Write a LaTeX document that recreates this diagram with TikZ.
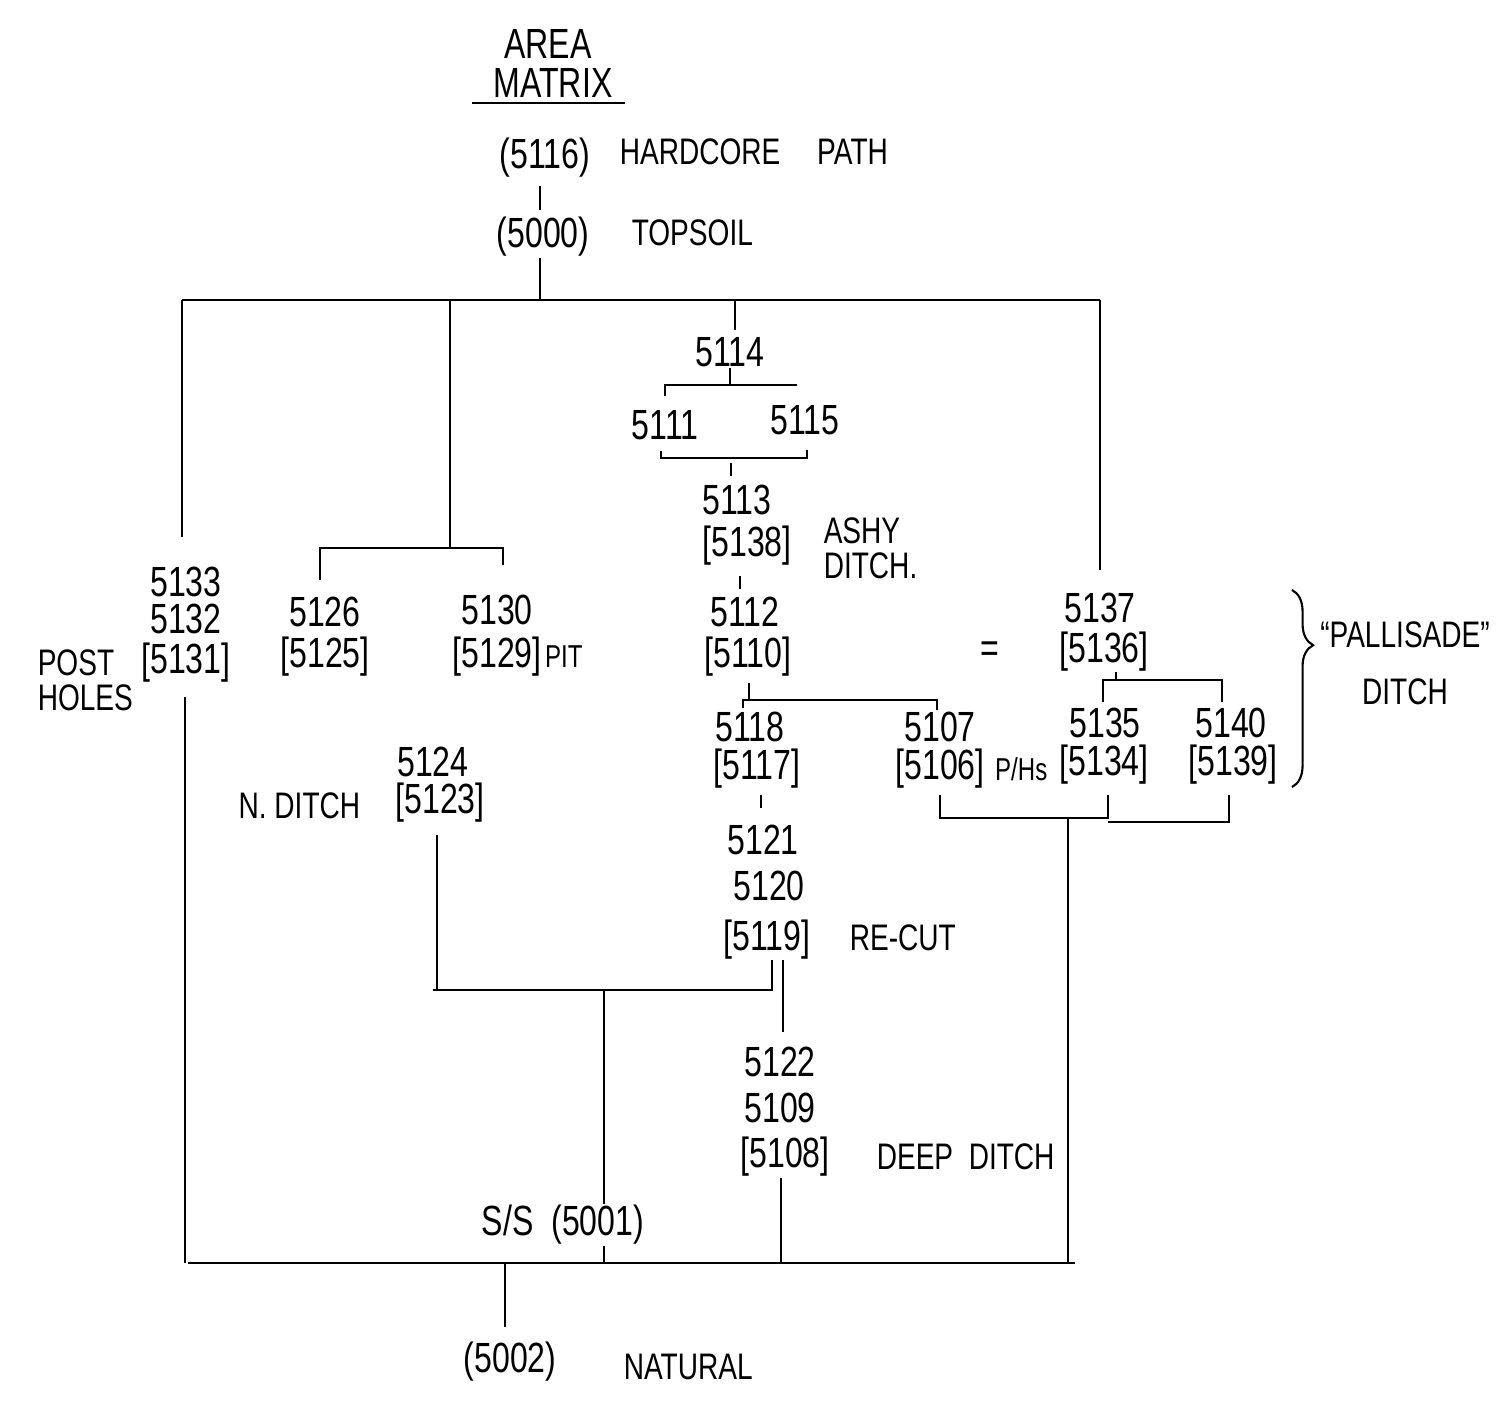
\documentclass[tikz,border=0pt]{standalone}
\usepackage{fontspec}
\setmainfont[FakeStretch=0.76]{Liberation Sans}
\usetikzlibrary{positioning,decorations.pathreplacing}

\begin{document}
\begin{tikzpicture}[
    x=0.01cm, y=-0.01cm,
    every node/.style={font=\fontsize{12}{14}\selectfont, inner sep=0.3pt},
    note/.style={font=\fontsize{10.5}{10}\selectfont, align=left},
    small/.style={font=\fontsize{9}{10}\selectfont},
    link/.style={line width=0.6pt},
    brace/.style={line width=0.6pt, decorate, decoration={brace, amplitude=6pt, aspect=0.28}}
  ]
  \useasboundingbox (0,0) rectangle (1507,1415);

  % title
  \node (area) at (548,44) {AREA};
  \node (matrix) at (553,83) {MATRIX};
  \draw[link] (472,103) -- (625,103);

  % top of sequence
  \node (u5116) at (545,158) {(5116)};
  \node[note, anchor=west] (hardcore) at (618,152) {HARDCORE\quad PATH};
  \node (u5000) at (543,237) {(5000)};
  \node[note, anchor=west] (topsoil) at (630,233) {TOPSOIL};

  % post holes
  \node (u5133) at (186,582) {5133};
  \node (u5132) at (186,619) {5132};
  \node (u5131) at (186,663) {[5131]};
  \node[note, anchor=west] (postholes) at (36,680) {POST\\HOLES};

  % north ditch and pit
  \node (u5126) at (325,612) {5126};
  \node (u5125) at (325,657) {[5125]};
  \node (u5130) at (497,610) {5130};
  \node (u5129) at (497,657) {[5129]};
  \node[small, right=0pt of u5129] (pit) {PIT};
  \node (u5124) at (433,762) {5124};
  \node (u5123) at (440,803) {[5123]};
  \node[note, anchor=east] (nditch) at (362,806) {N. DITCH};

  % central ditch sequence
  \node (u5114) at (730,352) {5114};
  \node (u5111) at (665,425) {5111};
  \node (u5115) at (805,420) {5115};
  \node (u5113) at (737,500) {5113};
  \node (u5138) at (747,546) {[5138]};
  \node[note, anchor=west] (ashy) at (822,548) {ASHY\\DITCH.};
  \node (u5112) at (745,612) {5112};
  \node (u5110) at (748,657) {[5110]};
  \node (u5118) at (750,727) {5118};
  \node (u5117) at (757,769) {[5117]};
  \node (u5107) at (940,727) {5107};
  \node (u5106) at (940,769) {[5106]};
  \node[small, right=2pt of u5106] (phs) {P/Hs};
  \node (u5121) at (763,840) {5121};
  \node (u5120) at (769,886) {5120};
  \node (u5119) at (767,940) {[5119]};
  \node[note, anchor=west] (recut) at (848,938) {RE-CUT};
  \node (u5122) at (780,1062) {5122};
  \node (u5109) at (780,1108) {5109};
  \node (u5108) at (785,1157) {[5108]};
  \node[note, anchor=west] (deep) at (875,1157) {DEEP\ \ DITCH};

  % palisade ditch
  \node (u5137) at (1100,608) {5137};
  \node (u5136) at (1104,652) {[5136]};
  \node[left=16pt of u5136] (eq) {=};
  \node (u5135) at (1105,723) {5135};
  \node (u5134) at (1104,765) {[5134]};
  \node (u5140) at (1231,723) {5140};
  \node (u5139) at (1233,765) {[5139]};
  \coordinate (brT) at (1292,590);
  \coordinate (brB) at (1292,787);
  \draw[brace] (brT) -- (brB);
  \node[note] (palisade) at (1405,635) {“PALLISADE”};
  \node[note] (pditch) at (1405,692) {DITCH};

  % base
  \node (u5001) at (563,1225) {S/S\ \ (5001)};
  \node (u5002) at (510,1362) {(5002)};
  \node[note, anchor=west] (natural) at (622,1367) {NATURAL};

  % bars
  \coordinate (topL) at (182,300);
  \coordinate (topR) at (1100,300);
  \coordinate (botL) at (188,1263);
  \coordinate (botR) at (1075,1263);

  \draw[link] (540,186) -- (540,210);
  \draw[link] (u5000.south -| 540,0) -- (540,300);
  \draw[link] (topL) -- (topR);
  \draw[link, shorten >=8pt] (topL) -- (topL |- u5133.north);
  \draw[link] (450,300) -- (450,548);
  \draw[link] (320,580) |- (503,548) -- (503,565);
  \draw[link] (735,300) -- (735,330);
  \draw[link, shorten >=6pt] (topR) -- (topR |- u5137.north);

  % central links
  \draw[link] (730,368) -- (730,385);
  \draw[link] (665,396) |- (797,385);
  \draw[link] (661,451) |- (807,458) -- (807,450);
  \draw[link] (731,463) -- (731,476);
  \draw[link] (740,576) -- (740,589);
  \draw[link] (749,683) -- (749,700);
  \draw[link] (743,708) |- (937,700) -- (937,710);
  \draw[link] (761,795) -- (761,808);
  \draw[link] (772,960) -- (772,990) -- (433,990);
  \draw[link] (783,960) -- (783,1032);
  \draw[link] (437,835) -- (437,990);
  \draw[link] (604,990) -- (604,0 |- u5001.north);
  \draw[link] (604,0 |- u5001.south) -- (604,1263);
  \draw[link] (u5108.south -| 781,0) -- (781,1263);

  % post holes down
  \draw[link] (185,697) -- (185,1263);

  % palisade links
  \draw[link] (1116,672) -- (1116,680);
  \draw[link] (1103,702) |- (1222,680) -- (1222,702);
  \draw[link] (940,795) |- (1108,818) -- (1108,795);
  \draw[link] (1108,822) -| (1229,795);
  \draw[link] (1068,818) -- (1068,1263);

  % bottom bar
  \draw[link] (botL) -- (botR);
  \draw[link, shorten >=4pt] (505,1263) -- (505,0 |- u5002.north);
\end{tikzpicture}
\end{document}
